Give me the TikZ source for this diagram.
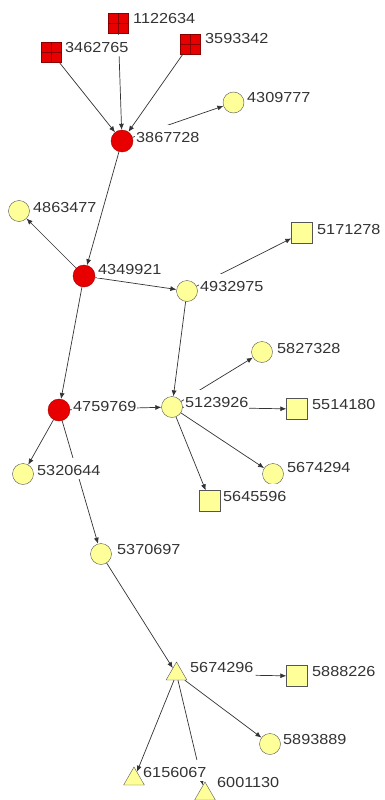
\documentclass[tikz,border=0pt]{standalone}
\usepackage{fontspec}
\setmainfont{Liberation Sans}[FakeStretch=1.12]
\usetikzlibrary{shapes.geometric,arrows.meta}
\definecolor{nred}{HTML}{E80000}
\definecolor{ndred}{HTML}{8A0000}
\definecolor{nyel}{HTML}{FFFF99}
\definecolor{nline}{HTML}{555555}
\definecolor{ntext}{HTML}{333333}
\tikzset{
  redcirc/.style={circle,fill=nred,draw=nred!70!black,minimum size=22pt,inner sep=0pt},
  yelcirc/.style={circle,fill=nyel,draw=nline,minimum size=21pt,inner sep=0pt},
  yelsq/.style={rectangle,fill=nyel,draw=nline,minimum size=21pt,inner sep=0pt},
  redsq/.style={rectangle,fill=nred,draw=ndred,minimum size=20pt,inner sep=0pt,
    path picture={\draw[ndred,line width=0.8pt] (path picture bounding box.north) -- (path picture bounding box.south)
      (path picture bounding box.west) -- (path picture bounding box.east);}},
  yeltri/.style={regular polygon,regular polygon sides=3,fill=nyel,draw=nline,minimum size=24pt,inner sep=0pt},
  lbl/.style={anchor=base west,fill=white,inner xsep=1pt,inner ysep=0.5pt,text height=17pt,text depth=3pt,
    text=ntext,font=\fontsize{14.5}{14.5}\selectfont},
  arr/.style={draw=black!80,line width=0.7pt,-{Latex[length=6pt,width=5pt]}},
}
\begin{document}
\begin{tikzpicture}[x=1pt,y=-1pt]
\useasboundingbox (0,0) rectangle (384,800);
\fill[white] (0,0) rectangle (384,800);
% nodes
\node[redsq] (n1122634) at (118,23) {};
\node[redsq] (n3462765) at (51,52) {};
\node[redsq] (n3593342) at (190,44) {};
\node[redcirc] (n3867728) at (122,141) {};
\node[yelcirc] (n4309777) at (233.5,102.5) {};
\node[yelcirc] (n4863477) at (19,211) {};
\node[redcirc] (n4349921) at (84,276) {};
\node[yelcirc] (n4932975) at (187,291) {};
\node[yelsq] (n5171278) at (302,233) {};
\node[yelcirc] (n5827328) at (262,352) {};
\node[redcirc] (n4759769) at (59,410) {};
\node[yelcirc] (n5123926) at (172,407) {};
\node[yelsq] (n5514180) at (297,409) {};
\node[yelcirc] (n5320644) at (23,474) {};
\node[yelcirc] (n5674294) at (273,474) {};
\node[yelsq] (n5645596) at (210,501) {};
\node[yelcirc] (n5370697) at (101,554) {};
\node[yeltri] (n5674296) at (176.5,674) {};
\node[yelsq] (n5888226) at (297,676) {};
\node[yelcirc] (n5893889) at (270,744) {};
\node[yeltri] (n6156067) at (134,779) {};
\node[yeltri] (n6001130) at (205,794) {};
% edges
\draw[arr] (n3462765) -- (n3867728);
\draw[arr] (n1122634) -- (n3867728);
\draw[arr] (n3593342) -- (n3867728);
\draw[arr] (n3867728) -- (n4309777);
\draw[arr] (n3867728) -- (n4349921);
\draw[arr] (n4349921) -- (n4863477);
\draw[arr] (n4349921) -- (n4932975);
\draw[arr] (n4349921) -- (n4759769);
\draw[arr] (n4932975) -- (n5171278);
\draw[arr] (n4932975) -- (n5123926);
\draw[arr] (n5123926) -- (n5827328);
\draw[arr] (n4759769) -- (n5123926);
\draw[arr] (n5123926) -- (n5514180);
\draw[arr] (n5123926) -- (n5674294);
\draw[arr] (n5123926) -- (n5645596);
\draw[arr] (n4759769) -- (n5320644);
\draw[arr] (n4759769) -- (n5370697);
\draw[arr] (n5370697) -- (n5674296);
\draw[arr,shorten <=72pt] (n5674296) -- (n5888226);
\draw[arr] (n5674296) -- (n5893889);
\draw[arr] (n5674296) -- (n6156067);
\draw[arr] (n5674296) -- (n6001130);
% labels
\node[lbl] (l1122634) at (132,24) {1122634};
\node[lbl] (l3462765) at (64,52.5) {3462765};
\node[lbl] (l3593342) at (204,44) {3593342};
\node[lbl] (l3867728) at (135,142.5) {3867728};
\node[lbl] (l4309777) at (246,102) {4309777};
\node[lbl] (l4863477) at (32,212) {4863477};
\node[lbl] (l4349921) at (97,274.5) {4349921};
\node[lbl] (l4932975) at (199,291) {4932975};
\node[lbl] (l5171278) at (316,234) {5171278};
\node[lbl] (l5827328) at (276,353) {5827328};
\node[lbl] (l4759769) at (72,411) {4759769};
\node[lbl] (l5123926) at (184,407.5) {5123926};
\node[lbl] (l5514180) at (311,409) {5514180};
\node[lbl] (l5320644) at (36,475) {5320644};
\node[lbl] (l5674294) at (286,472) {5674294};
\node[lbl] (l5645596) at (222,501) {5645596};
\node[lbl] (l5370697) at (116,554) {5370697};
\node[lbl] (l5674296) at (189,672) {5674296};
\node[lbl] (l5888226) at (311,676) {5888226};
\node[lbl] (l5893889) at (282,744) {5893889};
\node[lbl] (l6156067) at (142,777) {6156067};
\node[lbl] (l6001130) at (216,787.5) {6001130};
\end{tikzpicture}
\end{document}
